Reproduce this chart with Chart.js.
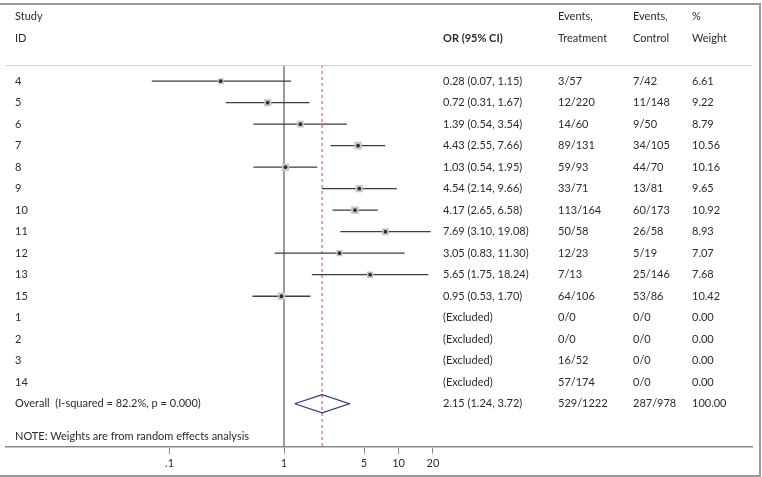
<!DOCTYPE html>
<html>
<head>
<meta charset="utf-8">
<script src="https://cdn.jsdelivr.net/npm/chart.js@4/dist/chart.umd.min.js"></script>
<style>
  html, body { margin: 0; padding: 0; background: #fff; }
  #wrap { width: 762px; height: 477px; }
</style>
</head>
<body>
<div id="wrap"><canvas id="chart" width="762" height="477"></canvas></div>
<script>
// study rows, top to bottom
const studyIds = ["4", "5", "6", "7", "8", "9", "10", "11", "12", "13", "15", "1", "2", "3", "14"];
const oddsRatio = [0.28, 0.72, 1.39, 4.43, 1.03, 4.54, 4.17, 7.69, 3.05, 5.65, 0.95, null, null, null, null];
const ciLow = [0.07, 0.31, 0.54, 2.55, 0.54, 2.14, 2.65, 3.10, 0.83, 1.75, 0.53, null, null, null, null];
const ciHigh = [1.15, 1.67, 3.54, 7.66, 1.95, 9.66, 6.58, 19.08, 11.30, 18.24, 1.70, null, null, null, null];
const eventsTreatment = ["3/57", "12/220", "14/60", "89/131", "59/93", "33/71", "113/164", "50/58", "12/23", "7/13", "64/106", "0/0", "0/0", "16/52", "57/174"];
const eventsControl = ["7/42", "11/148", "9/50", "34/105", "44/70", "13/81", "60/173", "26/58", "5/19", "25/146", "53/86", "0/0", "0/0", "0/0", "0/0"];
const weights = [6.61, 9.22, 8.79, 10.56, 10.16, 9.65, 10.92, 8.93, 7.07, 7.68, 10.42, 0, 0, 0, 0];

// pooled estimate
const overallLabel = "Overall  (I-squared = 82.2%, p = 0.000)";
const overallOR = 2.15;
const overallLow = 1.24;
const overallHigh = 3.72;
const overallTreatment = "529/1222";
const overallControl = "287/978";
const overallWeight = 100.00;
const noteText = "NOTE: Weights are from random effects analysis";

// x axis
const tickValues = [0.1, 1, 5, 10, 20];
const tickLabels = [".1", "1", "5", "10", "20"];

const FONT = "Lato";
const TEXT = "#2b2b2b";
const Y_MIN = -0.75, Y_MAX = 17;
const overallRow = studyIds.length;
const noteRow = overallRow + 1.5;

const fmt = (v) => v.toFixed(2);

const ciSets = studyIds.map((id, i) => oddsRatio[i] == null ? null : ({
  type: "line",
  data: [{ x: ciLow[i], y: i }, { x: ciHigh[i], y: i }],
  borderColor: "#3d3d3d",
  borderWidth: 1.3,
  pointRadius: 0,
  order: 3,
})).filter(Boolean);

const studyRows = studyIds.map((id, i) => i).filter((i) => oddsRatio[i] != null);

const datasets = [
  {
    type: "line",
    data: [{ x: 1, y: Y_MIN }, { x: 1, y: Y_MAX }],
    borderColor: "#7a7a7a",
    borderWidth: 1.5,
    pointRadius: 0,
    order: 5,
  },
  {
    type: "line",
    data: [{ x: overallOR, y: Y_MIN }, { x: overallOR, y: Y_MAX }],
    borderColor: "#c0505a",
    borderWidth: 1,
    borderDash: [3, 3],
    pointRadius: 0,
    order: 4,
  },
  ...ciSets,
  {
    type: "scatter",
    data: studyRows.map((i) => ({ x: oddsRatio[i], y: i })),
    pointStyle: "rect",
    pointRadius: studyRows.map((i) => 1.65 * Math.sqrt(weights[i])),
    backgroundColor: "#c8c8c8",
    borderWidth: 0,
    order: 2,
  },
  {
    type: "scatter",
    data: studyRows.map((i) => ({ x: oddsRatio[i], y: i })),
    pointRadius: 1.9,
    backgroundColor: "#2e2e2e",
    borderWidth: 0,
    order: 1,
  },
  {
    type: "line",
    data: [
      { x: overallLow, y: overallRow },
      { x: overallOR, y: overallRow - 0.42 },
      { x: overallHigh, y: overallRow },
      { x: overallOR, y: overallRow + 0.42 },
      { x: overallLow, y: overallRow },
    ],
    borderColor: "#2e3580",
    borderWidth: 1.2,
    pointRadius: 0,
    tension: 0,
    fill: false,
    order: 1,
  },
];

const tablePlugin = {
  id: "forestTable",
  beforeDraw(chart) {
    const ctx = chart.ctx;
    ctx.save();
    ctx.strokeStyle = "#9a9a9a";
    ctx.lineWidth = 2;
    ctx.strokeRect(-2, 4, 762, 472);
    ctx.restore();
  },
  afterDraw(chart) {
    const ctx = chart.ctx;
    const area = chart.chartArea;
    const ys = chart.scales.y;
    const rowY = (r) => ys.getPixelForValue(r);
    const col = { id: 15, or: 443, trt: 558, ctl: 633, wt: 692 };

    ctx.save();
    ctx.strokeStyle = "#cfcfcf";
    ctx.lineWidth = 1;
    ctx.beginPath();
    ctx.moveTo(area.left, area.top + 0.5);
    ctx.lineTo(area.right, area.top + 0.5);
    ctx.stroke();

    ctx.fillStyle = TEXT;
    ctx.textBaseline = "middle";
    ctx.textAlign = "left";
    const put = (txt, x, r, bold) => {
      ctx.font = (bold ? "bold " : "") + "11px " + FONT;
      ctx.fillText(txt, x, rowY(r));
    };

    put("Study", col.id, -3);
    put("ID", col.id, -2);
    put("OR (95% CI)", col.or, -2, true);
    put("Events,", col.trt, -3);
    put("Treatment", col.trt, -2);
    put("Events,", col.ctl, -3);
    put("Control", col.ctl, -2);
    put("%", col.wt, -3);
    put("Weight", col.wt, -2);

    studyIds.forEach((id, i) => {
      put(id, col.id, i);
      const orText = oddsRatio[i] == null
        ? "(Excluded)"
        : `${fmt(oddsRatio[i])} (${fmt(ciLow[i])}, ${fmt(ciHigh[i])})`;
      put(orText, col.or, i);
      put(eventsTreatment[i], col.trt, i);
      put(eventsControl[i], col.ctl, i);
      put(fmt(weights[i]), col.wt, i);
    });

    put(overallLabel, col.id, overallRow);
    put(`${fmt(overallOR)} (${fmt(overallLow)}, ${fmt(overallHigh)})`, col.or, overallRow);
    put(overallTreatment, col.trt, overallRow);
    put(overallControl, col.ctl, overallRow);
    put(fmt(overallWeight), col.wt, overallRow);
    put(noteText, col.id, noteRow);
    ctx.restore();
  },
};

new Chart(document.getElementById("chart"), {
  data: { datasets },
  options: {
    responsive: false,
    animation: false,
    layout: { padding: { left: 6, right: 10, top: 65, bottom: 4 } },
    plugins: {
      legend: { display: false },
      tooltip: { enabled: false },
    },
    scales: {
      x: {
        type: "logarithmic",
        bounds: "data",
        min: 0.00373,
        max: 12230,
        afterBuildTicks: (scale) => {
          scale.ticks = tickValues.map((v) => ({ value: v }));
        },
        grid: {
          drawOnChartArea: false,
          drawTicks: true,
          tickLength: 7,
          tickWidth: 1,
          color: "#8a8a8a",
        },
        border: { display: true, color: "#8a8a8a", width: 1.5 },
        ticks: {
          autoSkip: false,
          maxRotation: 0,
          padding: 3,
          color: TEXT,
          font: { family: FONT, size: 11 },
          callback: (value) => {
            const k = tickValues.indexOf(value);
            return k >= 0 ? tickLabels[k] : "";
          },
        },
      },
      y: {
        type: "linear",
        display: false,
        reverse: true,
        min: Y_MIN,
        max: Y_MAX,
      },
    },
  },
  plugins: [tablePlugin],
});
</script>
</body>
</html>
